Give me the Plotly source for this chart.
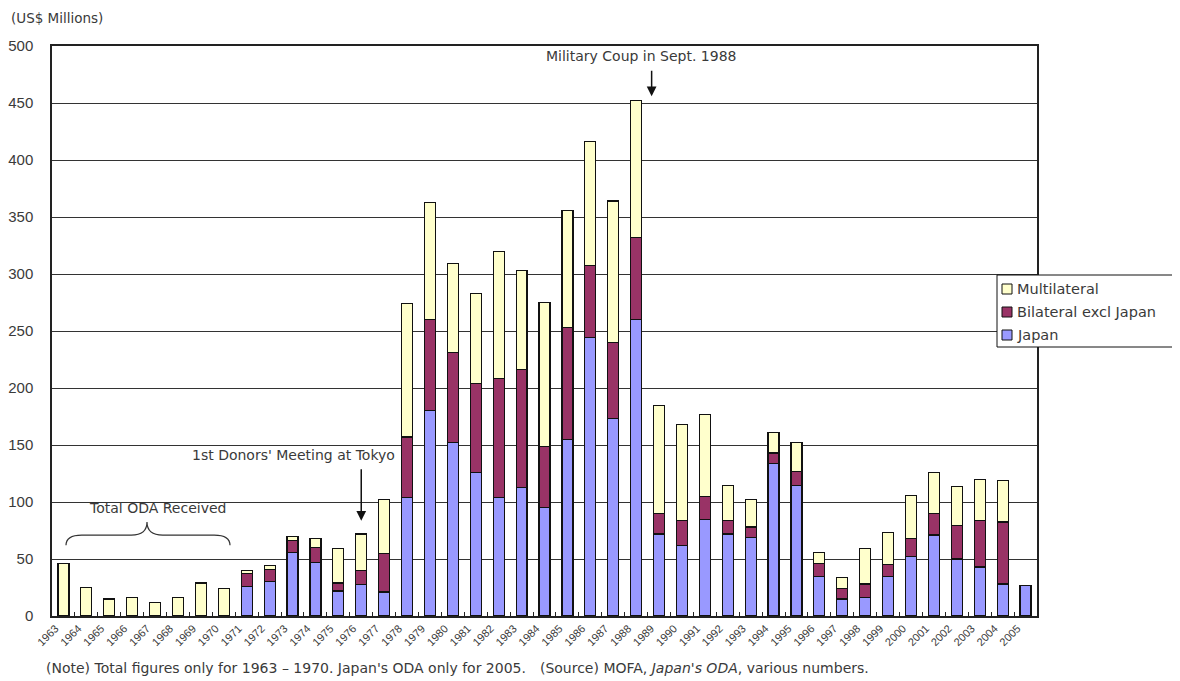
import plotly.graph_objects as go

years = [str(y) for y in range(1963, 2006)]

japan = [None]*8 + [26, 30, 56, 47, 22, 27.5, 21, 104, 180, 152, 126, 104, 113, 95, 155, 244, 173, 260,
                    72, 62, 84.5, 72, 69, 134, 114.5, 35, 15, 16, 34.5, 52, 71, 50, 43, 28, 26.5]
bilateral = [None]*8 + [11.5, 11, 10, 13, 7, 12.5, 34, 53, 80, 79, 78, 104, 103, 53.5, 98, 63.5, 67, 72,
                        18, 21.5, 20.5, 11.5, 9, 9, 12, 11, 9, 12, 10.5, 16, 19, 29.5, 40.5, 54.5, None]
multilateral = [46, 25, 15, 16, 12, 16, 29, 24] + [2.5, 3.5, 4, 8, 30, 32, 47, 117, 103, 78, 79, 112, 87, 126.5, 102.5, 108.5, 124, 120,
                                                   94.5, 84.5, 72, 31, 24, 18, 25.5, 10, 10, 31, 28.5, 37.5, 36, 34, 36.5, 36.5, None]

series_names = ["Japan", "Bilateral excl Japan", "Multilateral"]
series_colors = ["#9999FF", "#993366", "#FFFFCC"]

y_ticks = list(range(0, 501, 50))

text_col = "#3a3a3a"
ann_font = "DejaVu Sans, Verdana, sans-serif"
tick_font = "Liberation Sans, Arial, sans-serif"

# page has an 8px body margin; plot area in page pixels: x 52..1037, y 46..616
PAGE_OFF = 8
PL, PR, PT, PB = 52, 1037, 46, 616


def px2x(px):
    return (px - PL) / (PR - PL)


def px2y(py):
    return (PB - py) / (PB - PT)


fig = go.Figure()
for name, vals, col in zip(series_names, [japan, bilateral, multilateral], series_colors):
    fig.add_trace(go.Bar(x=years, y=vals, name=name, showlegend=False,
                         marker=dict(color=col, line=dict(color="#111111", width=1.2))))

W, H = 1180 - PAGE_OFF, 681 - PAGE_OFF
fig.update_layout(
    width=W, height=H,
    barmode="stack", bargap=0.52,
    plot_bgcolor="white", paper_bgcolor="white",
    margin=dict(l=PL - PAGE_OFF, r=W - (PR - PAGE_OFF), t=PT - PAGE_OFF, b=H - (PB - PAGE_OFF),
                autoexpand=False),
    font=dict(family=ann_font, color=text_col, size=13),
    showlegend=False,
)

fig.update_xaxes(type="category", range=[-0.5, len(years) - 0.5], showline=True, linecolor="#222222",
                 linewidth=1.5, mirror=True,
                 ticks="inside", tickson="boundaries", ticklen=4, tickcolor="#222222",
                 tickangle=-45, tickfont=dict(size=11, color=text_col, family=tick_font),
                 ticklabelshift=-8, showgrid=False)
fig.update_yaxes(range=[0, 500], tickvals=y_ticks, showline=True, linecolor="#222222", linewidth=1.5,
                 mirror=True, showgrid=True, gridcolor="#333333", gridwidth=1, ticks="",
                 tickfont=dict(size=15, color=text_col, family=tick_font), ticklabelstandoff=14,
                 zeroline=False)

i_coup = years.index("1988")
i_donor = years.index("1976")

# Annotations
fig.add_annotation(text="(US$ Millions)", xref="paper", yref="paper", x=px2x(9), y=px2y(18),
                   xanchor="left", yanchor="middle", showarrow=False, font=dict(size=13.5))
fig.add_annotation(text="Military Coup in Sept. 1988", xref="x", yref="y", x=i_coup, y=491,
                   xshift=5, showarrow=False, font=dict(size=14))
fig.add_annotation(text="", xref="x", yref="y", x=i_coup, y=456, xshift=15.5,
                   showarrow=True, ax=0, ay=-27, arrowhead=2, arrowsize=1.3, arrowwidth=1.5,
                   arrowcolor="#111111")
fig.add_annotation(text="1st Donors' Meeting at Tokyo", xref="x", yref="y", x=i_donor, y=141.5,
                   xshift=-68, showarrow=False, font=dict(size=14))
fig.add_annotation(text="", xref="x", yref="y", x=i_donor, y=83.5,
                   showarrow=True, ax=0, ay=-53, arrowhead=2, arrowsize=1.3, arrowwidth=1.5,
                   arrowcolor="#111111")
fig.add_annotation(text="Total ODA Received", xref="paper", yref="y", x=px2x(157), y=95,
                   xanchor="center", showarrow=False, font=dict(size=14))
fig.add_annotation(text="(Note) Total figures only for 1963 \u2013 1970. Japan's ODA only for 2005.\u2003(Source) MOFA, <i>Japan's ODA</i>, various numbers.",
                   xref="paper", yref="paper", x=px2x(44), y=px2y(668), xanchor="left", yanchor="middle",
                   showarrow=False, font=dict(size=14))

# Brace over 1963-1970
x0, xc, x1 = px2x(66), px2x(147), px2x(230)
yb, yh, yt = 62, 71, 82.5
d = 0.016
path = (f"M {x0},{yb} Q {x0},{yh} {x0+d},{yh} L {xc-d},{yh} Q {xc},{yh} {xc},{yt} "
        f"Q {xc},{yh} {xc+d},{yh} L {x1-d},{yh} Q {x1},{yh} {x1},{yb}")
fig.add_shape(type="path", path=path, xref="paper", yref="y", line=dict(color="#333333", width=1.2))

# Legend (drawn box, swatches and labels)
fig.add_shape(type="rect", xref="paper", yref="paper", x0=px2x(997), x1=px2x(1177),
              y0=px2y(347), y1=px2y(275), line=dict(color="#111111", width=1), fillcolor="white")
legend_rows = [289, 312, 335]
for row_y, name, col in zip(legend_rows, series_names[::-1], series_colors[::-1]):
    fig.add_shape(type="rect", xref="paper", yref="paper", x0=px2x(1002), x1=px2x(1012),
                  y0=px2y(row_y + 5), y1=px2y(row_y - 5), line=dict(color="#111111", width=1),
                  fillcolor=col)
    fig.add_annotation(text=name, xref="paper", yref="paper", x=px2x(1015), y=px2y(row_y),
                       xanchor="left", yanchor="middle", showarrow=False, font=dict(size=14.5))

fig.write_html("out.html")
